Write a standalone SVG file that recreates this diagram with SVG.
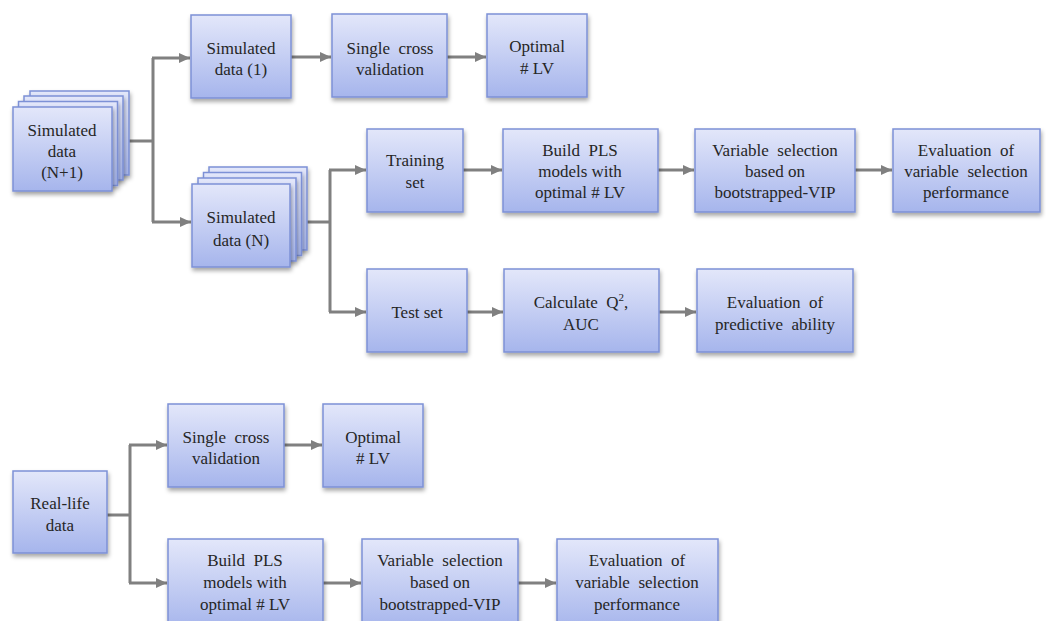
<svg xmlns="http://www.w3.org/2000/svg" width="1046" height="621" viewBox="0 0 1046 621">
<defs>
<linearGradient id="g" x1="0" y1="0" x2="0" y2="1">
<stop offset="0" stop-color="#e3e7fa"/>
<stop offset="1" stop-color="#a6b5ec"/>
</linearGradient>
<filter id="sh" x="-10%" y="-10%" width="130%" height="130%">
<feDropShadow dx="1" dy="3" stdDeviation="2" flood-color="#000" flood-opacity="0.35"/>
</filter>
<marker id="ah" markerUnits="userSpaceOnUse" markerWidth="12" markerHeight="12" refX="11" refY="6" orient="auto">
<path d="M0,1 L11,6 L0,11 Z" fill="#808080"/>
</marker>
</defs>
<style>
.b{fill:url(#g);stroke:#7d91d6;stroke-width:1.5;filter:url(#sh)}
.t{font-family:"Liberation Serif","Times New Roman",serif;font-size:17px;fill:#262626;text-anchor:middle}
.c{fill:none;stroke:#808080;stroke-width:3}
.a{fill:none;stroke:#808080;stroke-width:3;marker-end:url(#ah)}
</style>
<g id="connectors">
<path class="c" d="M112,141 H153 M153,58 V222"/>
<path class="a" d="M152,58 H190"/>
<path class="a" d="M152,222 H191"/>
<path class="a" d="M291,57 H331"/>
<path class="a" d="M447,57 H486"/>
<path class="c" d="M307,222 H330 M330,170 V312"/>
<path class="a" d="M329,170 H366"/>
<path class="a" d="M329,312 H366"/>
<path class="a" d="M463,170 H502"/>
<path class="a" d="M658,170 H694"/>
<path class="a" d="M855,170 H892"/>
<path class="a" d="M467,312 H503"/>
<path class="a" d="M659,312 H696"/>
<path class="c" d="M107,515 H130 M130,445 V583"/>
<path class="a" d="M129,445 H167"/>
<path class="a" d="M129,583 H167"/>
<path class="a" d="M284,445 H322"/>
<path class="a" d="M323,583 H361"/>
<path class="a" d="M518,583 H556"/>
</g>
<g id="sim-n1">
<rect class="b" x="30" y="91" width="99" height="84"/>
<rect class="b" x="24" y="96" width="99" height="84"/>
<rect class="b" x="18.5" y="101.5" width="99" height="84"/>
<rect class="b" x="13" y="107" width="99" height="84"/>
<text class="t" x="62" y="136">Simulated</text>
<text class="t" x="62" y="157">data</text>
<text class="t" x="62" y="178">(N+1)</text>
</g>
<g id="sim-1">
<rect class="b" x="191" y="15" width="100" height="83"/>
<text class="t" x="241" y="54">Simulated</text>
<text class="t" x="241" y="75">data (1)</text>
</g>
<g id="scv-top">
<rect class="b" x="332" y="14" width="115" height="83"/>
<text class="t" x="390" y="54">Single&#160; cross</text>
<text class="t" x="390" y="75">validation</text>
</g>
<g id="opt-top">
<rect class="b" x="487" y="14" width="100" height="83"/>
<text class="t" x="537" y="52">Optimal</text>
<text class="t" x="537" y="74"># LV</text>
</g>
<g id="sim-n">
<rect class="b" x="209" y="167" width="98" height="83"/>
<rect class="b" x="203.5" y="172.5" width="98" height="83"/>
<rect class="b" x="198" y="178" width="98" height="83"/>
<rect class="b" x="192" y="184" width="98" height="83"/>
<text class="t" x="241" y="223">Simulated</text>
<text class="t" x="241" y="246">data (N)</text>
</g>
<g id="training">
<rect class="b" x="367" y="129" width="96" height="83"/>
<text class="t" x="415" y="166">Training</text>
<text class="t" x="415" y="188">set</text>
</g>
<g id="build-pls-top">
<rect class="b" x="503" y="129" width="155" height="83"/>
<text class="t" x="580" y="156">Build&#160; PLS</text>
<text class="t" x="580" y="177">models with</text>
<text class="t" x="580" y="198">optimal # LV</text>
</g>
<g id="varsel-top">
<rect class="b" x="695" y="129" width="160" height="83"/>
<text class="t" x="775" y="156">Variable&#160; selection</text>
<text class="t" x="775" y="177">based on</text>
<text class="t" x="775" y="198">bootstrapped-VIP</text>
</g>
<g id="eval-top">
<rect class="b" x="893" y="129" width="147" height="83"/>
<text class="t" x="966" y="156">Evaluation&#160; of</text>
<text class="t" x="966" y="177">variable&#160; selection</text>
<text class="t" x="966" y="198">performance</text>
</g>
<g id="testset">
<rect class="b" x="367" y="269" width="100" height="83"/>
<text class="t" x="417" y="318">Test set</text>
</g>
<g id="calc">
<rect class="b" x="504" y="269" width="155" height="83"/>
<text class="t" x="581" y="308">Calculate&#160; Q<tspan font-size="11" dy="-7">2</tspan><tspan dy="7">,</tspan></text>
<text class="t" x="581" y="330">AUC</text>
</g>
<g id="eval-pred">
<rect class="b" x="697" y="269" width="156" height="83"/>
<text class="t" x="775" y="308">Evaluation&#160; of</text>
<text class="t" x="775" y="330">predictive&#160; ability</text>
</g>
<g id="real-life">
<rect class="b" x="13" y="471" width="94" height="82"/>
<text class="t" x="60" y="509">Real-life</text>
<text class="t" x="60" y="531">data</text>
</g>
<g id="scv-bottom">
<rect class="b" x="168" y="404" width="116" height="83"/>
<text class="t" x="226" y="443">Single&#160; cross</text>
<text class="t" x="226" y="464">validation</text>
</g>
<g id="opt-bottom">
<rect class="b" x="323" y="404" width="100" height="83"/>
<text class="t" x="373" y="443">Optimal</text>
<text class="t" x="373" y="464"># LV</text>
</g>
<g id="build-pls-bottom">
<rect class="b" x="168" y="539" width="155" height="90"/>
<text class="t" x="245" y="566">Build&#160; PLS</text>
<text class="t" x="245" y="588">models with</text>
<text class="t" x="245" y="610">optimal # LV</text>
</g>
<g id="varsel-bottom">
<rect class="b" x="362" y="539" width="156" height="90"/>
<text class="t" x="440" y="566">Variable&#160; selection</text>
<text class="t" x="440" y="588">based on</text>
<text class="t" x="440" y="610">bootstrapped-VIP</text>
</g>
<g id="eval-bottom">
<rect class="b" x="557" y="539" width="161" height="90"/>
<text class="t" x="637" y="566">Evaluation&#160; of</text>
<text class="t" x="637" y="588">variable&#160; selection</text>
<text class="t" x="637" y="610">performance</text>
</g>
</svg>
